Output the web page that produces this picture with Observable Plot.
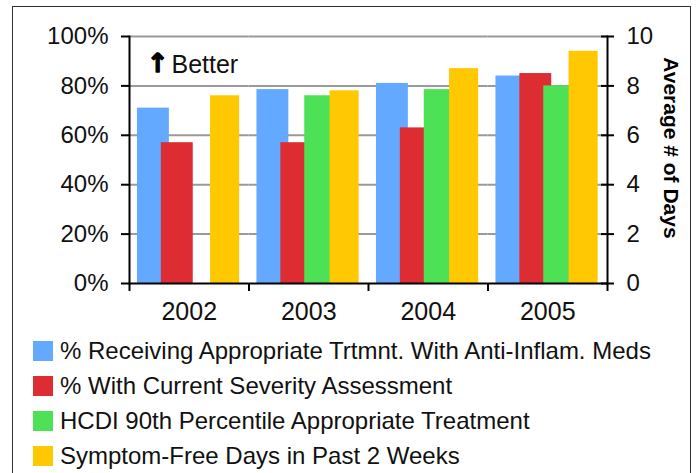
<!DOCTYPE html>
<html>
<head>
<meta charset="utf-8">
<script src="https://cdn.jsdelivr.net/npm/d3@7"></script>
<script src="https://cdn.jsdelivr.net/npm/@observablehq/plot@0.6"></script>
<style>
  html, body { margin: 0; padding: 0; background: #fff; }
  #wrap { position: relative; width: 696px; height: 473px; overflow: hidden; font-family: "Liberation Sans", Arial, sans-serif; }
  #box { position: absolute; left: 12px; top: 6px; width: 679px; height: 520px; border: 1.5px solid #333; box-sizing: border-box; }
  #chart { position: absolute; left: 0; top: 0; }
  #legend { position: absolute; left: 33px; top: 341px; }
  .row { display: flex; align-items: center; height: 20px; margin-bottom: 15px; font-size: 24px; line-height: 20px; color: #111; white-space: nowrap; }
  .sw { width: 20px; height: 20px; margin-right: 7px; flex: none; }
</style>
</head>
<body>
<div id="wrap">
  <div id="box"></div>
  <div id="chart"></div>
  <div id="legend"></div>
</div>
<script>
// ---- data ----
const years = ["2002", "2003", "2004", "2005"];
const seriesNames = [
  "% Receiving Appropriate Trtmnt. With Anti-Inflam. Meds",
  "% With Current Severity Assessment",
  "HCDI 90th Percentile Appropriate Treatment",
  "Symptom-Free Days in Past 2 Weeks"
];
const colors = ["#63A9FF", "#DD2C32", "#4DE155", "#FFC800"];
const pctAntiInflam = [71, 78.5, 81, 84];          // %
const pctSeverity = [57, 57, 63, 85];               // %
const pctHCDI = [null, 76, 78.5, 80];               // %
const symptomFreeDays = [7.6, 7.8, 8.7, 9.4];       // days (right axis, 0-10)
const leftTicks = [0, 20, 40, 60, 80, 100];
const annotation = "Better";
const rightTitle = "Average # of Days";

// right axis: 10 days maps to 100 on the shared scale
const daysToShared = d => d * 10;

const rowsPct = [];
[pctAntiInflam, pctSeverity, pctHCDI].forEach((arr, s) => {
  arr.forEach((v, i) => { if (v != null) rowsPct.push({year: years[i], series: seriesNames[s], value: v}); });
});
const rowsDays = symptomFreeDays.map((v, i) => ({year: years[i], series: seriesNames[3], value: daysToShared(v)}));

// ---- layout ----
const W = 696, H = 330, mL = 129, mR = 89, mT = 36, mB = 47;
const bandW = (W - mL - mR) / years.length;

const chart = Plot.plot({
  width: W, height: H,
  marginLeft: mL, marginRight: mR, marginTop: mT, marginBottom: mB,
  style: {fontFamily: "'Liberation Sans', Arial, sans-serif", fontSize: "24px", background: "transparent", color: "#111"},
  fx: {domain: years, paddingInner: 0, paddingOuter: 0, round: false, label: null},
  x: {domain: seriesNames, paddingInner: 0, paddingOuter: 0.5, round: false, axis: null},
  y: {domain: [0, 100], label: null},
  color: {domain: seriesNames, range: colors},
  marks: [
    Plot.gridY({ticks: leftTicks.slice(1), stroke: "#9a9a9a", strokeOpacity: 1, strokeWidth: 2}),
    Plot.barY(rowsPct, {fx: "year", x: "series", y: "value", fill: "series", insetLeft: -4, insetRight: -4}),
    Plot.barY(rowsDays, {fx: "year", x: "series", y: "value", fill: "series", insetLeft: -2.6, insetRight: -2.6}),
    Plot.ruleY([0], {stroke: "#000", strokeWidth: 2}),
    Plot.frame({anchor: "left", facetAnchor: "left", stroke: "#000", strokeWidth: 2}),
    Plot.frame({anchor: "right", facetAnchor: "right", stroke: "#000", strokeWidth: 2}),
    // left axis
    Plot.axisY({anchor: "left", ticks: leftTicks, tickSize: 8, tickPadding: 13, strokeWidth: 2, stroke: "#000",
      tickFormat: d => d + "%", label: null, fontSize: 24}),
    // right axis ticks (crossing the axis line) and labels
    Plot.axisY({anchor: "right", ticks: leftTicks, tickSize: 13, dx: -7, fill: "none", strokeWidth: 2, stroke: "#000", label: null}),
    Plot.axisY({anchor: "right", ticks: leftTicks, tickSize: 0, tickPadding: 19, tickFormat: d => String(d / 10), label: null, fontSize: 24}),
    // category boundary ticks on the x axis
    Plot.axisFx({anchor: "bottom", tickSize: 8, dx: -bandW / 2, fill: "none", strokeWidth: 2, stroke: "#000", label: null}),
    Plot.axisFx({anchor: "bottom", ticks: [years[years.length - 1]], tickSize: 8, dx: bandW / 2, fill: "none", strokeWidth: 2, stroke: "#000", label: null}),
    // category labels
    Plot.axisFx({anchor: "bottom", tickSize: 0, tickPadding: 19, label: null, fontSize: 25}),
    // annotation
    Plot.text([{year: years[0]}], {fx: "year", frameAnchor: "top-left", text: () => "\u2191", textAnchor: "middle", lineAnchor: "top", dx: 28.5, dy: 17, fontSize: 26, fontWeight: "bold", fontFamily: "'DejaVu Sans', sans-serif", fill: "#000", stroke: "#000", strokeWidth: 1.3}),
    Plot.text([{year: years[0]}], {fx: "year", frameAnchor: "top-left", text: () => annotation, textAnchor: "start", lineAnchor: "top", dx: 42, dy: 19, fontSize: 25, fill: "#111"}),
    // right axis title
    Plot.text([{year: years[years.length - 1]}], {fx: "year", frameAnchor: "right", text: () => rightTitle, rotate: 90, textAnchor: "middle", lineAnchor: "middle", dx: 63, dy: -12, fontSize: 21, fontWeight: "bold", fill: "#000"})
  ]
});
document.getElementById("chart").appendChild(chart);

// ---- legend ----
const legend = document.getElementById("legend");
seriesNames.forEach((name, i) => {
  const row = document.createElement("div");
  row.className = "row";
  const sw = document.createElement("div");
  sw.className = "sw";
  sw.style.background = colors[i];
  const t = document.createElement("span");
  t.textContent = name;
  row.appendChild(sw); row.appendChild(t);
  legend.appendChild(row);
});
</script>
</body>
</html>
